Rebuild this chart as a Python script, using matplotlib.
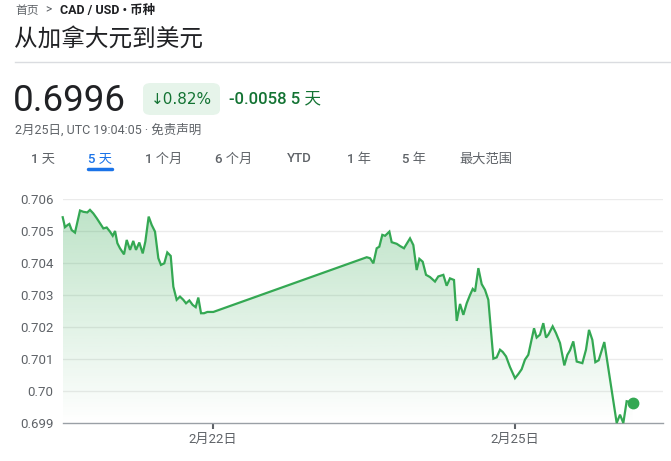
import numpy as np
import matplotlib.pyplot as plt
from matplotlib.patches import FancyBboxPatch

plt.rcParams['font.family'] = ['Roboto', 'Noto Sans CJK SC', 'DejaVu Sans']

# time in days from 2月20日 00:00, rate CAD -> USD
days = [0.507, 0.530, 0.557, 0.573, 0.596, 0.629, 0.679, 0.712, 0.751, 0.778,
        0.811, 0.845, 0.878, 0.911, 0.944, 0.977, 1.004, 1.027, 1.050, 1.076,
        1.116, 1.143, 1.176, 1.208, 1.235, 1.268, 1.302, 1.328, 1.361, 1.391,
        1.424, 1.457, 1.483, 1.516, 1.546, 1.580, 1.606, 1.639, 1.672, 1.705,
        1.732, 1.765, 1.798, 1.828, 1.854, 1.881, 1.911, 1.944, 2.003,
        3.527, 3.560, 3.593, 3.626, 3.652, 3.682, 3.709, 3.752, 3.775, 3.825,
        3.858, 3.897, 3.957, 3.990, 4.023, 4.050, 4.083, 4.116, 4.156, 4.205,
        4.238, 4.288, 4.321, 4.354, 4.394, 4.421, 4.454, 4.487, 4.520, 4.553,
        4.580, 4.603, 4.636, 4.669, 4.702, 4.735, 4.785, 4.818, 4.851, 4.878,
        4.911, 4.950, 5.000, 5.033, 5.066, 5.099, 5.132, 5.189, 5.215, 5.248,
        5.281, 5.308, 5.331, 5.374, 5.407, 5.447, 5.490, 5.520, 5.546, 5.579,
        5.613, 5.669, 5.705, 5.735, 5.768, 5.798, 5.831, 5.887, 6.010, 6.043,
        6.076, 6.109, 6.169]
rate = [0.70543, 0.70512, 0.70519, 0.70522, 0.70503, 0.70495, 0.70564, 0.70560, 0.70558, 0.70566,
        0.70555, 0.70540, 0.70524, 0.70508, 0.70511, 0.70498, 0.70485, 0.70500, 0.70462, 0.70446,
        0.70427, 0.70472, 0.70441, 0.70469, 0.70441, 0.70464, 0.70430, 0.70467, 0.70545, 0.70519,
        0.70498, 0.70415, 0.70394, 0.70399, 0.70433, 0.70422, 0.70326, 0.70285, 0.70295, 0.70285,
        0.70274, 0.70283, 0.70269, 0.70262, 0.70292, 0.70243, 0.70243, 0.70247, 0.70247,
        0.70418, 0.70415, 0.70399, 0.70446, 0.70451, 0.70488, 0.70485, 0.70498, 0.70465, 0.70460,
        0.70453, 0.70446, 0.70477, 0.70456, 0.70378, 0.70413, 0.70404, 0.70363, 0.70356, 0.70342,
        0.70358, 0.70363, 0.70329, 0.70352, 0.70347, 0.70219, 0.70272, 0.70238, 0.70274, 0.70300,
        0.70319, 0.70311, 0.70384, 0.70334, 0.70316, 0.70285, 0.70101, 0.70105, 0.70129, 0.70122,
        0.70108, 0.70075, 0.70040, 0.70053, 0.70068, 0.70098, 0.70113, 0.70196, 0.70167, 0.70176,
        0.70212, 0.70167, 0.70176, 0.70202, 0.70181, 0.70150, 0.70080, 0.70113, 0.70127, 0.70155,
        0.70092, 0.70087, 0.70129, 0.70191, 0.70160, 0.70090, 0.70096, 0.70153, 0.69900, 0.69926,
        0.69900, 0.69968, 0.69964]

y_ticks = [0.699, 0.700, 0.701, 0.702, 0.703, 0.704, 0.705, 0.706]
y_labels = ['0.699', '0.70', '0.701', '0.702', '0.703', '0.704', '0.705', '0.706']
x_ticks = [2, 5]
x_labels = ['2月22日', '2月25日']
tabs = ['1 天', '5 天', '1 个月', '6 个月', 'YTD', '1 年', '5 年', '最大范围']
tab_x = [31, 88, 145, 215, 287, 347, 402, 459]

W, H = 671, 461
green = '#34a853'
gray = '#5f6368'
dark = '#202124'

fig = plt.figure(figsize=(W / 100, H / 100), dpi=100)


def fx(x):
    return x / W


def fy(y):
    return 1 - y / H


# header
fig.text(fx(15), fy(10), '首页', fontsize=8.5, color=gray, va='center')
fig.text(fx(45), fy(10), '>', fontsize=8.5, color=gray, va='center')
fig.text(fx(60), fy(10), 'CAD / USD • 币种', fontsize=9, color=dark, va='center', weight='bold')
fig.text(fx(14), fy(39), '从加拿大元到美元', fontsize=17, color=dark, va='center')
fig.add_artist(plt.Line2D([fx(15), 1], [fy(62), fy(62)], color='#dadce0', lw=1))

fig.text(fx(13), fy(101), '0.6996', fontsize=26.5, color=dark, va='center')
badge = FancyBboxPatch((fx(143), fy(115)), fx(77), (115 - 83) / H,
                       boxstyle='round,pad=0,rounding_size=0.012',
                       transform=fig.transFigure, fc='#e6f4ea', ec='none')
fig.add_artist(badge)
fig.text(fx(151), fy(99), '↓0.82%', fontsize=11, color='#137333', va='center',
         family=['DejaVu Sans'])
fig.text(fx(229), fy(99), '-0.0058 5 天', fontsize=12, color='#137333', va='center',
         weight='medium')
fig.text(fx(15), fy(130), '2月25日, UTC 19:04:05 · 免责声明', fontsize=9, color=gray, va='center')

for t, x in zip(tabs, tab_x):
    c = '#1a73e8' if t == '5 天' else gray
    fig.text(fx(x), fy(159), t, fontsize=9.5, color=c, va='center', weight='medium')
fig.add_artist(plt.Line2D([fx(88), fx(112)], [fy(169), fy(169)], color='#1a73e8', lw=2.5,
                          solid_capstyle='round'))

# chart
ax = fig.add_axes([fx(63), fy(423), fx(663) - fx(63), (423 - 199) / H])
x0 = 2 + (63 - 213) / 100.67
x1 = 2 + (663 - 213) / 100.67
ax.set_xlim(x0, x1)
ax.set_ylim(0.699, 0.706)

# gradient fill below line
grad = np.linspace(0.32, 0.0, 256).reshape(-1, 1)
rgba = np.zeros((256, 1, 4))
rgba[..., 0] = 52 / 255
rgba[..., 1] = 168 / 255
rgba[..., 2] = 83 / 255
rgba[..., 3] = grad
poly = ax.fill_between(days, rate, 0.699, color='none', lw=0)
img = ax.imshow(rgba, aspect='auto', extent=[x0, x1, 0.699, max(rate)], origin='upper', zorder=1)
img.set_clip_path(poly.get_paths()[0], transform=ax.transData)

ax.plot(days, rate, color=green, lw=1.6, zorder=3, clip_on=False, solid_joinstyle='miter')
ax.plot(days[-1], rate[-1], 'o', color=green, ms=7.5, zorder=4, clip_on=False)

ax.set_yticks(y_ticks)
ax.set_yticklabels(y_labels)
ax.set_xticks(x_ticks)
ax.set_xticklabels(x_labels)
for y in y_ticks[1:]:
    ax.axhline(y, color='#ebebeb', lw=1, zorder=0)
for s in ['top', 'right', 'left']:
    ax.spines[s].set_visible(False)
ax.spines['bottom'].set_color('#9aa0a6')
ax.spines['bottom'].set_linewidth(1)
ax.tick_params(axis='y', length=0, pad=7, labelsize=9.5, labelcolor=gray)
ax.tick_params(axis='x', length=4, width=1.5, color='#5f6368', pad=3, labelsize=9.5, labelcolor=gray)

fig.savefig('out.png', dpi=100)
